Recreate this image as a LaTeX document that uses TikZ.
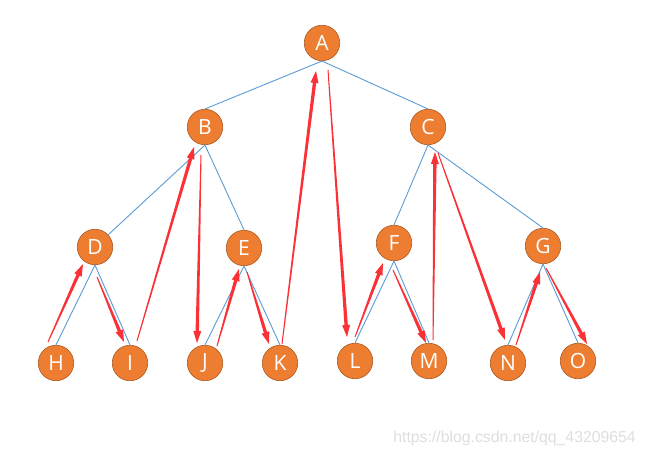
\documentclass[tikz,border=0pt]{standalone}
\usepackage{fontspec}
\setmainfont{Open Sans}
\usetikzlibrary{calc}
\definecolor{nodeorange}{RGB}{237,125,49}
\definecolor{nodeborder}{RGB}{174,90,33}
\definecolor{edgeblue}{RGB}{91,155,213}
\definecolor{arrred}{RGB}{250,50,55}
\definecolor{wmgrey}{RGB}{222,222,222}
\newcommand{\taparrow}[2]{%
  \coordinate (tb) at ($(#2)!12pt!(#1)$);
  \fill[arrred] ($(#1)!0.5pt!90:(#2)$) -- ($(tb)!1.7pt!90:(#2)$) -- ($(tb)!4pt!90:(#2)$) -- (#2)
    -- ($(tb)!4pt!-90:(#2)$) -- ($(tb)!1.7pt!-90:(#2)$) -- ($(#1)!0.5pt!-90:(#2)$) -- cycle;}
\begin{document}
\begin{tikzpicture}[x=1pt,y=-1pt,
  tnode/.style={circle,fill=nodeorange,draw=nodeborder,line width=0.6pt,minimum size=35.5pt,inner sep=0pt,
    text=white,font=\fontsize{21}{21}\selectfont},
  tedge/.style={draw=edgeblue,line width=0.9pt}]
\useasboundingbox (0,0) rectangle (645,457);
% nodes
\node[tnode] (A) at (322,43) {A};
\node[tnode] (B) at (205,127) {B};
\node[tnode] (C) at (428,127) {C};
\node[tnode] (D) at (95,247) {D};
\node[tnode] (E) at (244,248) {E};
\node[tnode] (F) at (394,243) {F};
\node[tnode] (G) at (543,246) {G};
\node[tnode] (H) at (56,363) {H};
\node[tnode] (I) at (130,363) {I};
\node[tnode] (J) at (205,363) {J};
\node[tnode] (K) at (280,363) {K};
\node[tnode] (L) at (355,361) {L};
\node[tnode] (M) at (429,361) {M};
\node[tnode] (N) at (508,363) {N};
\node[tnode] (O) at (578,361) {O};
% tree edges
\draw[tedge] (A.south) -- (B.north);
\draw[tedge] (A.south) -- (C.north);
\draw[tedge] (B.south) -- (D);
\draw[tedge] (B.south) -- (E.north);
\draw[tedge] (C.south) -- (F.north);
\draw[tedge] (C.south) -- (G.north);
\draw[tedge] (D.south) -- (H.north);
\draw[tedge] (D.south) -- (I.north);
\draw[tedge] (E.south) -- (J.north);
\draw[tedge] (E.south) -- (K.north);
\draw[tedge] (F.south) -- (L.north);
\draw[tedge] (F.south) -- (M.north);
\draw[tedge] (G.south) -- (N.north);
\draw[tedge] (G.south) -- (O.north);
% traversal arrow end points
\coordinate (h1) at ($(H)+(-8,-21)$);  \coordinate (d1) at ($(D)+(-12,17)$);
\coordinate (d2) at ($(D)+(2,30)$);    \coordinate (i1) at ($(I)+(-6,-21)$);
\coordinate (i2) at ($(I)+(7,-22)$);   \coordinate (b1) at ($(B)+(-11,20)$);
\coordinate (b2) at ($(B)+(-4,28)$);   \coordinate (j1) at ($(J)+(-8,-20)$);
\coordinate (j2) at ($(J)+(12,-17)$);  \coordinate (e1) at ($(E)+(-5,21)$);
\coordinate (e2) at ($(E)+(3,24)$);    \coordinate (k1) at ($(K)+(-11,-19)$);
\coordinate (k2) at ($(K)+(2,-19)$);   \coordinate (a1) at ($(A)+(-6,28)$);
\coordinate (a2) at ($(A)+(6,27)$);    \coordinate (l1) at ($(L)+(-8,-24)$);
\coordinate (l2) at ($(L)+(0,-24)$);   \coordinate (f1) at ($(F)+(-11,20)$);
\coordinate (f2) at ($(F)+(-1,27)$);   \coordinate (m1) at ($(M)+(-3,-18)$);
\coordinate (m2) at ($(M)+(4,-21)$);   \coordinate (c1) at ($(C)+(7,25)$);
\coordinate (c2) at ($(C)+(10,26)$);   \coordinate (n1) at ($(N)+(-3,-23)$);
\coordinate (n2) at ($(N)+(8,-18)$);   \coordinate (g1) at ($(G)+(-3,26)$);
\coordinate (g2) at ($(G)+(3,22)$);    \coordinate (o1) at ($(O)+(9,-17)$);
% traversal arrows
\taparrow{h1}{d1}
\taparrow{d2}{i1}
\taparrow{i2}{b1}
\taparrow{b2}{j1}
\taparrow{j2}{e1}
\taparrow{e2}{k1}
\taparrow{k2}{a1}
\taparrow{a2}{l1}
\taparrow{l2}{f1}
\taparrow{f2}{m1}
\taparrow{m2}{c1}
\taparrow{c2}{n1}
\taparrow{n2}{g1}
\taparrow{g2}{o1}
% watermark
\node[anchor=east,text=wmgrey,inner sep=0pt,font=\fontspec{Liberation Sans}\fontsize{15.8}{16}\selectfont] (wm) at (636,438) {https://blog.csdn.net/qq\_43209654};
\end{tikzpicture}
\end{document}
